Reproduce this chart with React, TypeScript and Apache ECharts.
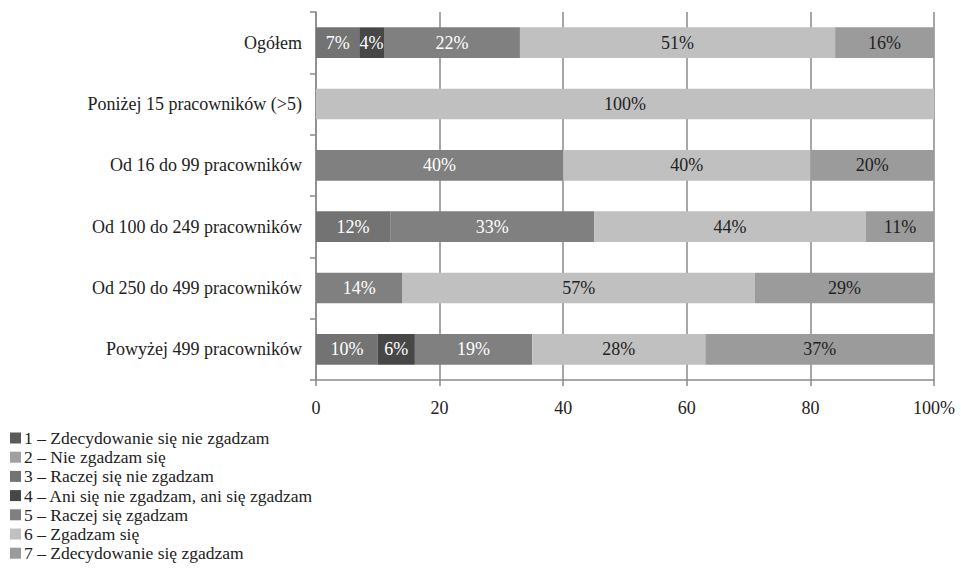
import React, { useEffect, useRef } from "react";
import * as echarts from "echarts";

const categories = [
  "Ogółem",
  "Poniżej 15 pracowników (>5)",
  "Od 16 do 99 pracowników",
  "Od 100 do 249 pracowników",
  "Od 250 do 499 pracowników",
  "Powyżej 499 pracowników",
];

const seriesNames = [
  "1 – Zdecydowanie się nie zgadzam",
  "2 – Nie zgadzam się",
  "3 – Raczej się nie zgadzam",
  "4 – Ani się nie zgadzam, ani się zgadzam",
  "5 – Raczej się zgadzam",
  "6 – Zgadzam się",
  "7 – Zdecydowanie się zgadzam",
];

// Percent shares per answer, one value per category (same order as categories)
const s1 = [0, 0, 0, 0, 0, 0];
const s2 = [0, 0, 0, 0, 0, 0];
const s3 = [7, 0, 0, 12, 0, 10];
const s4 = [4, 0, 0, 0, 0, 6];
const s5 = [22, 0, 40, 33, 14, 19];
const s6 = [51, 100, 40, 44, 57, 28];
const s7 = [16, 0, 20, 11, 29, 37];

const seriesValues = [s1, s2, s3, s4, s5, s6, s7];
const seriesColors = ["#5a5a5a", "#a0a0a0", "#737373", "#474747", "#808080", "#c0c0c0", "#9b9b9b"];
const labelColors = ["#ffffff", "#222222", "#ffffff", "#ffffff", "#ffffff", "#222222", "#222222"];

const xTicks = [0, 20, 40, 60, 80, 100];

const FONT = "Liberation Serif, Times New Roman, serif";

export default function App() {
  const ref = useRef<HTMLDivElement>(null);

  useEffect(() => {
    document.body.style.margin = "0";
    if (!ref.current) return;
    const chart = echarts.init(ref.current, undefined, { renderer: "svg" });

    const series = seriesNames.map((name, i) => ({
      name,
      type: "bar" as const,
      stack: "total",
      barWidth: "50%",
      data: seriesValues[i],
      itemStyle: { color: seriesColors[i] },
      label: {
        show: true,
        position: "inside" as const,
        color: labelColors[i],
        fontFamily: FONT,
        fontSize: 18,
        formatter: (p: any) => (p.value ? `${p.value}%` : ""),
      },
    }));

    chart.setOption({
      animation: false,
      textStyle: { fontFamily: FONT },
      grid: { left: 316, right: 27, top: 12, bottom: 208, containLabel: false },
      xAxis: {
        type: "value",
        min: 0,
        max: 100,
        interval: 20,
        axisLine: { show: true, lineStyle: { color: "#8a8a8a", width: 1.5 } },
        axisTick: { show: true, length: 6, lineStyle: { color: "#8a8a8a", width: 1.5 } },
        splitLine: { show: true, lineStyle: { color: "#8a8a8a", width: 1.5 } },
        axisLabel: {
          color: "#222",
          fontFamily: FONT,
          fontSize: 18,
          margin: 19,
          formatter: (v: number) => (v === xTicks[xTicks.length - 1] ? `${v}%` : `${v}`),
        },
      },
      yAxis: {
        type: "category",
        inverse: true,
        data: categories,
        axisLine: { show: true, lineStyle: { color: "#8a8a8a", width: 1.5 } },
        axisTick: { show: true, length: 6, lineStyle: { color: "#8a8a8a", width: 1.5 } },
        axisLabel: { color: "#222", fontFamily: FONT, fontSize: 18, margin: 14 },
      },
      legend: {
        orient: "vertical",
        left: 10,
        top: 429,
        padding: 0,
        itemWidth: 11,
        itemHeight: 11,
        itemGap: 1.2,
        icon: "rect",
        textStyle: { color: "#222", fontFamily: FONT, fontSize: 17.5, lineHeight: 17.5, padding: [0, 0, 0, -2] },
        data: seriesNames,
      },
      series,
    });

    return () => chart.dispose();
  }, []);

  return <div ref={ref} style={{ width: 961, height: 588 }} />;
}
